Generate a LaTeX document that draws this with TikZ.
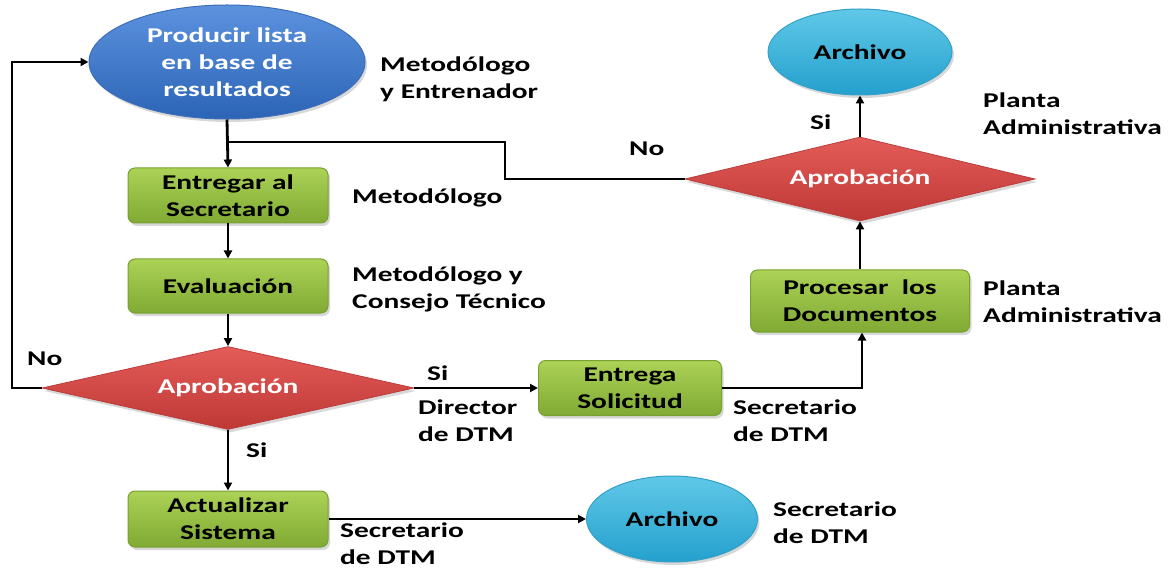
\documentclass[tikz,border=0pt]{standalone}
\usepackage{fontspec}
\setmainfont{Carlito}[FakeStretch=1.4]
\usetikzlibrary{shapes.geometric,arrows.meta,shadows}
\definecolor{bluetop}{RGB}{92,146,222}
\definecolor{bluebot}{RGB}{44,100,182}
\definecolor{blueline}{RGB}{60,110,185}
\definecolor{cyantop}{RGB}{96,200,232}
\definecolor{cyanbot}{RGB}{36,160,205}
\definecolor{cyanline}{RGB}{50,160,200}
\definecolor{greentop}{RGB}{172,210,86}
\definecolor{greenbot}{RGB}{128,170,52}
\definecolor{greenline}{RGB}{120,160,50}
\definecolor{redtop}{RGB}{228,92,88}
\definecolor{redbot}{RGB}{190,56,54}
\definecolor{redline}{RGB}{185,60,58}
\tikzset{
  txt/.style={font=\fontsize{21}{27}\selectfont\bfseries, align=center, inner sep=0pt},
  shad/.style={drop shadow={opacity=0.3,shadow xshift=2pt,shadow yshift=-3pt}},
  bigell/.style={txt, ellipse, shad, top color=bluetop, bottom color=bluebot, draw=blueline, line width=1pt, text=white},
  smell/.style={txt, ellipse, shad, top color=cyantop, bottom color=cyanbot, draw=cyanline, line width=1pt, text=black},
  gbox/.style={txt, rectangle, rounded corners=7pt, shad, top color=greentop, bottom color=greenbot, draw=greenline, line width=1pt, text=black},
  dmd/.style={txt, diamond, shad, top color=redtop, bottom color=redbot, draw=redline, line width=0.8pt, text=white, aspect=4.4},
  lbl/.style={font=\fontsize{21}{27}\selectfont\bfseries, align=left, inner sep=0pt, anchor=west},
  conn/.style={line width=2.8pt, draw=black},
  arr/.style={conn, -{Triangle[length=8pt,width=8pt]}},
}
\begin{document}
\begin{tikzpicture}[x=1pt,y=-1pt]
\fill[white] (0,0) rectangle (1172,569);
\useasboundingbox (0,0) rectangle (1172,569);
% nodes
\node[bigell, minimum width=276pt, minimum height=114pt] (prod) at (227,62) {Producir lista\\en base de\\resultados};
\node[gbox, minimum width=200pt, minimum height=55pt] (ent) at (228,195.5) {Entregar al\\Secretario};
\node[gbox, minimum width=200pt, minimum height=54pt] (eval) at (228,286) {Evaluación};
\node[dmd, minimum width=372pt, minimum height=83pt] (ap1) at (228,388) {Aprobación};
\node[gbox, minimum width=200pt, minimum height=56pt] (act) at (228,519) {Actualizar\\Sistema};
\node[gbox, minimum width=183pt, minimum height=55pt] (entS) at (630,388) {Entrega\\Solicitud};
\node[smell, minimum width=171pt, minimum height=86pt] (arch2) at (672,519) {Archivo};
\node[gbox, minimum width=219pt, minimum height=62pt] (proc) at (860,301) {Procesar\ \ los\\Documentos};
\node[dmd, minimum width=350pt, minimum height=84pt] (ap2) at (860,179) {Aprobación};
\node[smell, minimum width=184pt, minimum height=86pt] (arch1) at (860,52) {Archivo};
% helper coordinates
\coordinate (j) at (228,142);
\coordinate (lb) at (12,388);
\coordinate (lt) at (12,62);
\coordinate (nb) at (505,179);
\coordinate (nt) at (505,142);
\coordinate (pc) at (862,388);
% connectors
\draw[arr] (prod.south) -- (ent.north);
\draw[arr] (ent.south) -- (eval.north);
\draw[arr] (eval.south) -- (ap1.north);
\draw[arr] (ap1.west) -- (lb) -- (lt) -- (prod.west);
\draw[arr] (ap1.south) -- (act.north);
\draw[arr] (ap1.east) -- (entS.west);
\draw[arr] (entS.east) -- (pc) -- (pc |- proc.south);
\draw[arr] (proc.north) -- (ap2.south);
\draw[arr] (ap2.north) -- (arch1.south);
\draw[conn] (ap2.west) -- (nb) -- (nt) -- (j);
\draw[arr] (act.east) -- (arch2.west);
% labels
\node[lbl] (l1) at (380,79) {Metodólogo\\y Entrenador};
\node[lbl] (l2) at (352,198) {Metodólogo};
\node[lbl] (l3) at (352,289) {Metodólogo y\\Consejo Técnico};
\node[lbl] (l4) at (27,359) {No};
\node[lbl] (l5) at (427,373) {Si};
\node[lbl] (l6) at (418,421) {Director\\de DTM};
\node[lbl] (l7) at (246,450) {Si};
\node[lbl] (l8) at (340,544) {Secretario\\de DTM};
\node[lbl] (l9) at (733,421) {Secretario\\de DTM};
\node[lbl] (l10) at (773,523) {Secretario\\de DTM};
\node[lbl] (l11) at (629,149) {No};
\node[lbl] (l12) at (810,122) {Si};
\node[lbl] (l13) at (983,114) {Planta\\Administrativa};
\node[lbl] (l14) at (983,302) {Planta\\Administrativa};
\end{tikzpicture}
\end{document}
